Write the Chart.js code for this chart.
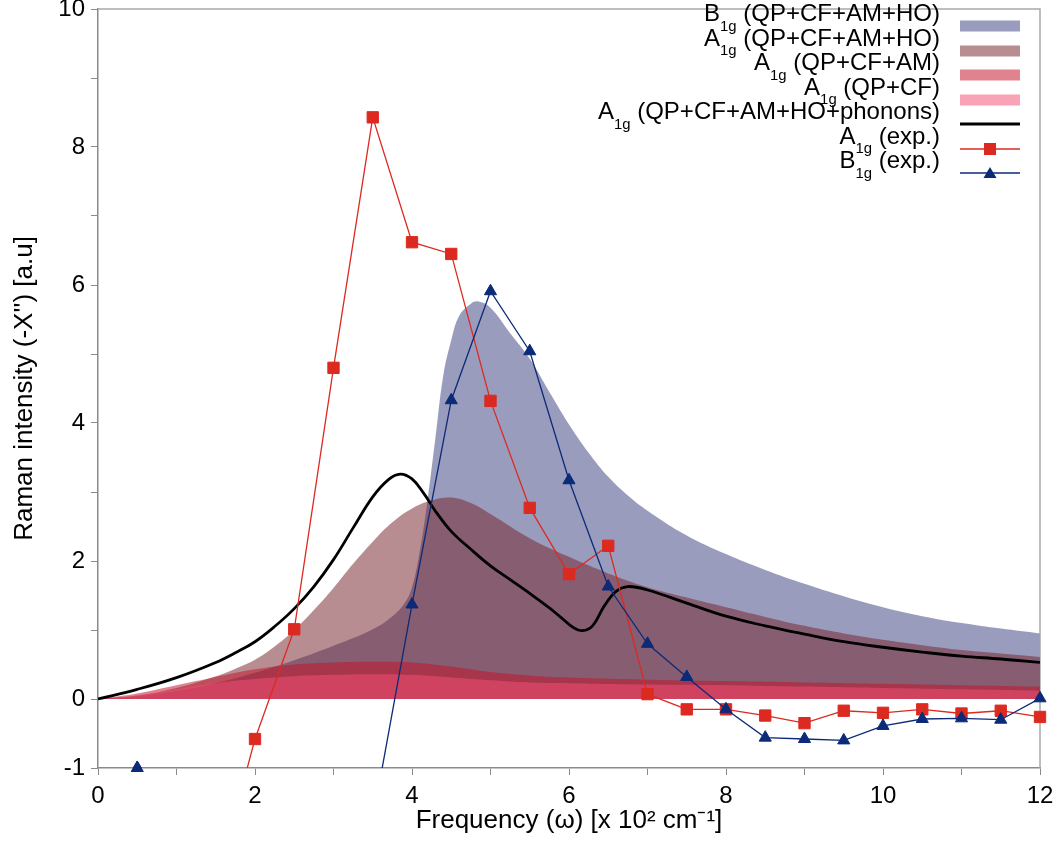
<!DOCTYPE html>
<html>
<head>
<meta charset="utf-8">
<title>Raman intensity</title>
<script src="https://cdn.jsdelivr.net/npm/chart.js@4.4.1/dist/chart.umd.min.js"></script>
<style>
    html, body { margin: 0; background: #fff; }
    #wrap { position: relative; width: 1061px; height: 857px; }
    #legend {
        position: absolute; top: 14px; right: 41px;
        font-family: 'Liberation Sans', Arial, sans-serif; font-size: 24px; color: #000;
    }
    #legend .row { display: flex; justify-content: flex-end; align-items: center; height: 24.5px; }
    #legend .label { position: relative; top: -13px; white-space: nowrap; line-height: 24.5px; }
    #legend sub { font-size: 0.62em; vertical-align: baseline; position: relative; top: 9.5px; line-height: 0; }
    #legend svg { margin-left: 20px; display: block; }
</style>
</head>
<body>
<div id="wrap">
    <canvas id="ramanChart"></canvas>
    <div id="legend"></div>
</div>
<script>
// Frequencies are in units of 10^2 cm^-1

// B1g (QP+CF+AM+HO)
const b1gX = [0, 0.5, 1, 1.5, 2, 2.5, 3, 3.5, 3.75, 3.9, 4, 4.1, 4.2, 4.3, 4.4, 4.5, 4.6, 4.75, 4.85,
    5, 5.25, 5.5, 5.75, 6, 6.25, 6.5, 6.75, 7, 7.5, 8, 8.5, 9, 9.5, 10, 10.5, 11, 11.5, 12];
const b1gY = [0, 0.04, 0.12, 0.23, 0.38, 0.56, 0.77, 1.01, 1.2, 1.38, 1.62, 2.15, 2.9, 3.8, 4.7, 5.2, 5.55, 5.73, 5.76,
    5.67, 5.3, 4.93, 4.45, 3.98, 3.57, 3.22, 2.95, 2.73, 2.37, 2.1, 1.87, 1.67, 1.49, 1.33, 1.2, 1.1, 1.02, 0.95];

// A1g (QP+CF+AM+HO)
const a1gHoX = [0, 0.5, 1, 1.5, 1.75, 2, 2.25, 2.5, 2.75, 3, 3.25, 3.5, 3.75, 4, 4.25, 4.5, 4.75, 5,
    5.5, 6, 6.5, 7, 7.5, 8, 8.5, 9, 9.5, 10, 10.5, 11, 11.5, 12];
const a1gHoY = [0, 0.05, 0.16, 0.33, 0.44, 0.57, 0.76, 1.0, 1.29, 1.61, 1.96, 2.28, 2.56, 2.76, 2.88, 2.92, 2.84, 2.68,
    2.33, 2.06, 1.82, 1.62, 1.47, 1.33, 1.19, 1.06, 0.95, 0.86, 0.78, 0.71, 0.66, 0.61];

// A1g (QP+CF+AM) and A1g (QP+CF) share the coarse grid
const coarseX = [0, 0.5, 1, 1.5, 2, 2.5, 3, 3.5, 4, 4.5, 5, 5.5, 6, 7, 8, 9, 10, 11, 12];
const a1gAmY = [0, 0.08, 0.2, 0.32, 0.43, 0.5, 0.53, 0.54, 0.53, 0.47, 0.39, 0.34, 0.31, 0.28, 0.26, 0.24, 0.22, 0.2, 0.18];
const a1gCfY = [0, 0.05, 0.14, 0.23, 0.29, 0.33, 0.35, 0.36, 0.35, 0.31, 0.27, 0.24, 0.23, 0.21, 0.2, 0.18, 0.16, 0.14, 0.12];

// A1g (QP+CF+AM+HO+phonons)
const phononX = [0, 0.5, 1, 1.5, 1.75, 2, 2.25, 2.5, 2.75, 3, 3.25, 3.5, 3.7, 3.85, 4, 4.15, 4.3, 4.5, 4.75,
    5, 5.25, 5.5, 5.75, 5.9, 6.05, 6.17, 6.3, 6.45, 6.6, 6.75, 7, 7.5, 8, 8.5, 9, 9.5, 10, 10.5, 11, 11.5, 12];
const phononY = [0, 0.14, 0.31, 0.53, 0.67, 0.83, 1.05, 1.31, 1.63, 2.02, 2.48, 2.93, 3.18, 3.26, 3.19, 2.98, 2.72, 2.43, 2.17,
    1.93, 1.73, 1.53, 1.32, 1.18, 1.04, 0.99, 1.06, 1.35, 1.56, 1.63, 1.58, 1.39, 1.2, 1.06, 0.94, 0.83, 0.75, 0.68, 0.62, 0.58, 0.53];

// measured spectra
const a1gExpX = [1.5, 2, 2.5, 3, 3.5, 4, 4.5, 5, 5.5, 6, 6.5, 7, 7.5, 8, 8.5, 9, 9.5, 10, 10.5, 11, 11.5, 12];
const a1gExpY = [-2.7, -0.58, 1.01, 4.80, 8.43, 6.62, 6.45, 4.32, 2.77, 1.81, 2.22, 0.07, -0.15, -0.15, -0.24,
    -0.35, -0.17, -0.20, -0.15, -0.21, -0.17, -0.26];
const b1gExpX = [0.5, 3.5, 4, 4.5, 5, 5.5, 6, 6.5, 7, 7.5, 8, 8.5, 9, 9.5, 10, 10.5, 11, 11.5, 12];
const b1gExpY = [-1.0, -1.75, 1.37, 4.33, 5.91, 5.04, 3.17, 1.63, 0.80, 0.32, -0.15, -0.56, -0.58, -0.60,
    -0.39, -0.29, -0.28, -0.30, 0.01];

const b1gFill = '#9a9cbd';
const a1gHoFill = 'rgba(117, 34, 43, 0.515)';
const a1gAmFill = 'rgba(196, 21, 44, 0.53)';
const a1gCfFill = 'rgba(244, 80, 116, 0.525)';
const expRed = '#dc2a20';
const expBlue = '#0b2a78';
const axisGrey = '#8a8a8a';

function points(xs, ys) {
    return xs.map((x, i) => ({x: x, y: ys[i]}));
}

function areaSet(label, xs, ys, color, order) {
    return {
        label: label,
        data: points(xs, ys),
        order: order,
        fill: 'origin',
        backgroundColor: color,
        borderColor: 'transparent',
        borderWidth: 0,
        pointRadius: 0,
        tension: 0.4
    };
}

/**
 *  Legend key drawn as a small svg: a swatch for the areas, a line (with marker) for the rest.
 */
function legendKey(ds) {
    let mark;
    if (ds.fill) {
        mark = `<rect x="0" y="6.5" width="60" height="11" fill="${ds.backgroundColor}"/>`;
    } else {
        mark = `<line x1="0" y1="12" x2="60" y2="12" stroke="${ds.borderColor}" stroke-width="${ds.borderWidth}"/>`;
        if (ds.pointStyle === 'rect') {
            mark += `<rect x="24" y="6" width="12" height="12" fill="${ds.pointBackgroundColor}"/>`;
        } else if (ds.pointStyle === 'triangle') {
            mark += `<polygon points="30,6 36.5,17 23.5,17" fill="${ds.pointBackgroundColor}"/>`;
        }
    }
    return `<svg width="60" height="24">${mark}</svg>`;
}

const htmlLegend = {
    id: 'htmlLegend',
    afterUpdate(chart) {
        const box = document.getElementById('legend');
        box.innerHTML = '';
        chart.data.datasets.forEach(ds => {
            const row = document.createElement('div');
            row.className = 'row';
            const text = document.createElement('span');
            text.className = 'label';
            text.innerHTML = ds.label.replace(/^([AB])1g/, '$1<sub>1g</sub>');
            row.appendChild(text);
            row.insertAdjacentHTML('beforeend', legendKey(ds));
            box.appendChild(row);
        });
    }
};

// light top and right edges of the plot box
const plotFrame = {
    id: 'plotFrame',
    beforeDatasetsDraw(chart) {
        const {ctx, chartArea: a} = chart;
        ctx.save();
        ctx.strokeStyle = '#a9a9a9';
        ctx.lineWidth = 1.5;
        ctx.beginPath();
        ctx.moveTo(a.left, a.top);
        ctx.lineTo(a.right, a.top);
        ctx.lineTo(a.right, a.bottom);
        ctx.stroke();
        ctx.restore();
    }
};

// markers lying on the lower axis are cut by the dataset clip, paint them once more
const edgeMarkers = {
    id: 'edgeMarkers',
    afterDatasetsDraw(chart) {
        const bottom = chart.chartArea.bottom;
        chart.getSortedVisibleDatasetMetas().forEach(meta => {
            meta.data.forEach(pt => {
                if (pt.options.radius > 0 && Math.abs(pt.y - bottom) < 1) {
                    pt.draw(chart.ctx);
                }
            });
        });
    }
};

Chart.defaults.font.family = "'Liberation Sans', Arial, sans-serif";
Chart.defaults.color = '#000';

const ramanChart = new Chart(document.getElementById('ramanChart').getContext('2d'), {
    type: 'line',
    data: {
        datasets: [
            areaSet('B1g (QP+CF+AM+HO)', b1gX, b1gY, b1gFill, 6),
            areaSet('A1g (QP+CF+AM+HO)', a1gHoX, a1gHoY, a1gHoFill, 5),
            areaSet('A1g (QP+CF+AM)', coarseX, a1gAmY, a1gAmFill, 4),
            areaSet('A1g (QP+CF)', coarseX, a1gCfY, a1gCfFill, 3),
            {
                label: 'A1g (QP+CF+AM+HO+phonons)',
                data: points(phononX, phononY),
                order: 2,
                fill: false,
                borderColor: '#000',
                borderWidth: 2.8,
                pointRadius: 0,
                tension: 0.4
            }, {
                label: 'A1g (exp.)',
                data: points(a1gExpX, a1gExpY),
                order: 1,
                fill: false,
                borderColor: expRed,
                borderWidth: 1.3,
                pointStyle: 'rect',
                pointRadius: 8,
                pointBackgroundColor: expRed,
                pointBorderColor: expRed,
                pointBorderWidth: 1,
                clip: {left: 12, top: 12, right: 12, bottom: 0}
            }, {
                label: 'B1g (exp.)',
                data: points(b1gExpX, b1gExpY),
                order: 0,
                fill: false,
                borderColor: expBlue,
                borderWidth: 1.3,
                pointStyle: 'triangle',
                pointRadius: 7,
                pointBackgroundColor: expBlue,
                pointBorderColor: expBlue,
                pointBorderWidth: 1,
                clip: {left: 12, top: 12, right: 12, bottom: 0}
            }
        ]
    },
    options: {
        responsive: true,
        maintainAspectRatio: false,
        animation: false,
        layout: {padding: {top: 9, right: 21, left: 0, bottom: 0}},
        plugins: {
            legend: {display: false},
            tooltip: {enabled: false}
        },
        scales: {
            x: {
                type: 'linear',
                min: 0,
                max: 12,
                ticks: {
                    stepSize: 1,
                    padding: 7,
                    font: {size: 24},
                    callback: v => (v % 2 === 0 ? v : '')
                },
                grid: {drawOnChartArea: false, tickLength: 7, color: axisGrey},
                border: {color: axisGrey, width: 1.5},
                title: {
                    display: true,
                    text: 'Frequency (ω) [x 10² cm⁻¹]',
                    font: {size: 26},
                    padding: {top: 0, bottom: 21}
                },
                afterFit: scale => {
                    scale.height = 89;
                    scale.paddingLeft = 0;
                    scale.paddingRight = 0;
                }
            },
            y: {
                type: 'linear',
                min: -1,
                max: 10,
                ticks: {
                    stepSize: 1,
                    padding: 6,
                    font: {size: 24},
                    callback: v => (v % 2 === 0 || v === -1 ? v : '')
                },
                grid: {drawOnChartArea: false, tickLength: 7, color: axisGrey},
                border: {color: axisGrey, width: 1.5},
                title: {
                    display: true,
                    text: "Raman intensity (-X'') [a.u]",
                    font: {size: 26},
                    padding: {top: 9, bottom: 0}
                },
                afterFit: scale => {
                    scale.width = 98;
                    scale.paddingTop = 0;
                    scale.paddingBottom = 0;
                }
            }
        }
    },
    plugins: [htmlLegend, plotFrame, edgeMarkers]
});
</script>
</body>
</html>
